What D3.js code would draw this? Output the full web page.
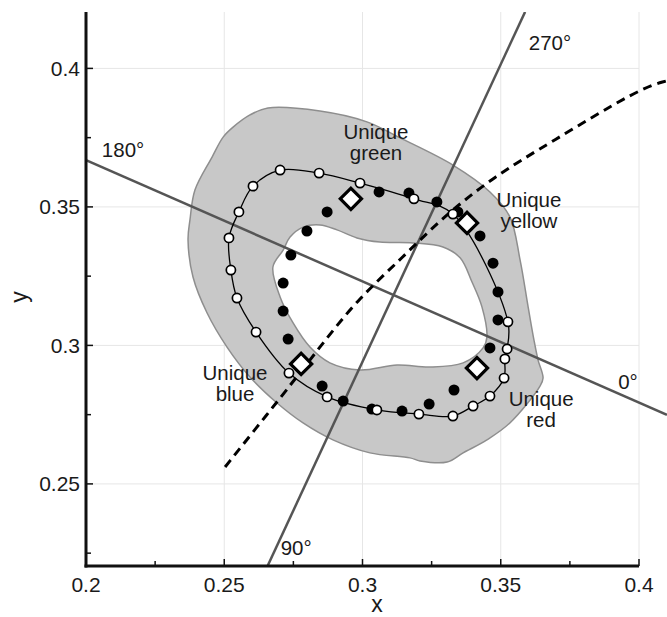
<!DOCTYPE html>
<html>
<head>
<meta charset="utf-8">
<script src="https://cdn.jsdelivr.net/npm/d3@7"></script>
<style>
body { margin: 0; background: #fff; }
text { font-family: "Liberation Sans", Arial, Helvetica, sans-serif; fill: #1a1a1a; }
</style>
</head>
<body>
<svg width="667" height="617"></svg>
<script>
// chart values
var xTicks = [0.2, 0.25, 0.3, 0.35, 0.4],
    yTicks = [0.25, 0.3, 0.35, 0.4],
    xMinor = [0.225, 0.275, 0.325, 0.375],
    yMinor = [0.225, 0.275, 0.325, 0.375];

// hue loop (open circles), in order round the ring
var loopX = [0.2517, 0.2553, 0.2604, 0.2702, 0.2843, 0.2991, 0.3186, 0.3327, 0.3526, 0.3523, 0.3515,
             0.3512, 0.3461, 0.3400, 0.3327, 0.3204, 0.3052, 0.2872, 0.2734, 0.2615, 0.2546, 0.2524];
var loopY = [0.3388, 0.3482, 0.3575, 0.3633, 0.3622, 0.3586, 0.3529, 0.3474, 0.3085, 0.2987, 0.2951,
             0.2882, 0.2817, 0.2781, 0.2745, 0.2752, 0.2767, 0.2814, 0.2900, 0.3048, 0.3171, 0.3272];

// filled circles
var dotX = [0.2872, 0.3060, 0.3168, 0.3269, 0.3345, 0.3425, 0.3472, 0.3490, 0.3490, 0.3461, 0.3331,
            0.3241, 0.3143, 0.3034, 0.2930, 0.2854, 0.2731, 0.2713, 0.2713, 0.2741, 0.2799];
var dotY = [0.3482, 0.3554, 0.3550, 0.3518, 0.3482, 0.3395, 0.3297, 0.3193, 0.3092, 0.2991, 0.2839,
            0.2788, 0.2763, 0.2770, 0.2799, 0.2853, 0.3023, 0.3124, 0.3225, 0.3326, 0.3413];

// unique hues (diamonds)
var uniqueNames = ["Unique green", "Unique yellow", "Unique blue", "Unique red"];
var uniqueX = [0.2958, 0.3378, 0.2778, 0.3414];
var uniqueY = [0.3529, 0.3442, 0.2933, 0.2918];

// shaded band: outer and inner edges
var outerX = [0.2658, 0.2846, 0.3016, 0.3136, 0.3327, 0.3461, 0.3533, 0.3570, 0.3599, 0.3620, 0.3635,
              0.3653, 0.3642, 0.3533, 0.3450, 0.3364, 0.3306, 0.3208, 0.3172, 0.3027, 0.2893, 0.2785,
              0.2691, 0.2593, 0.2510, 0.2438, 0.2387, 0.2369, 0.2376, 0.2394, 0.2456, 0.2496, 0.2532, 0.2593];
var outerY = [0.3857, 0.3846, 0.3807, 0.3749, 0.3651, 0.3554, 0.3464, 0.3308, 0.3139, 0.3020, 0.2947,
              0.2882, 0.2853, 0.2720, 0.2659, 0.2612, 0.2579, 0.2583, 0.2594, 0.2612, 0.2659, 0.2720,
              0.2792, 0.2886, 0.2994, 0.3117, 0.3247, 0.3381, 0.3453, 0.3561, 0.3680, 0.3752, 0.3788, 0.3832];
var innerX = [0.2676, 0.2713, 0.2738, 0.2785, 0.2846, 0.2908, 0.2980, 0.3063, 0.3183, 0.3291, 0.3353,
              0.3396, 0.3432, 0.3450, 0.3436, 0.3364, 0.3244, 0.3125, 0.2991, 0.2882, 0.2810, 0.2749, 0.2702];
var innerY = [0.3283, 0.3344, 0.3391, 0.3427, 0.3435, 0.3417, 0.3388, 0.3373, 0.3370, 0.3355, 0.3316,
              0.3229, 0.3139, 0.3030, 0.2991, 0.2937, 0.2922, 0.2929, 0.2911, 0.2937, 0.2994, 0.3081, 0.3175];

// opponent axes
var axis0X = [0.2, 0.4101],   axis0Y = [0.3669, 0.2749];
var axis90X = [0.2655, 0.3588], axis90Y = [0.22, 0.4204];

// dashed curve
var dashX = [0.2503, 0.2618, 0.2720, 0.2846, 0.2980, 0.3147, 0.3280, 0.3472, 0.3678, 0.4004, 0.4101];
var dashY = [0.2561, 0.2705, 0.2832, 0.2994, 0.3164, 0.3319, 0.3453, 0.3608, 0.3731, 0.3929, 0.3955];

var svg = d3.select("svg");

var x = d3.scaleLinear().domain([0.2, 0.4]).range([86, 639]),
    y = d3.scaleLinear().domain([0.22, 0.42]).range([567, 13]);

function pts(xs, ys) { return xs.map(function(d, i) { return [x(d), y(ys[i])]; }); }

svg.append("clipPath").attr("id", "clip")
  .append("rect").attr("x", 86).attr("y", 12).attr("width", 581).attr("height", 555);

// grid
svg.append("g").selectAll("line").data(xTicks.slice(1)).enter().append("line")
  .attr("x1", function(d) { return x(d); }).attr("x2", function(d) { return x(d); })
  .attr("y1", 12).attr("y2", 567)
  .attr("stroke", "#e6e6e6").attr("stroke-width", 1);
svg.append("g").selectAll("line").data(yTicks).enter().append("line")
  .attr("y1", function(d) { return y(d); }).attr("y2", function(d) { return y(d); })
  .attr("x1", 86).attr("x2", 639)
  .attr("stroke", "#e6e6e6").attr("stroke-width", 1);

var plot = svg.append("g").attr("clip-path", "url(#clip)");

// shaded band, hole cut with evenodd
var ringLine = d3.line().curve(d3.curveCatmullRomClosed.alpha(0.5));
plot.append("path")
  .attr("d", ringLine(pts(outerX, outerY)) + ringLine(pts(innerX, innerY)))
  .attr("fill", "#c8c8c8")
  .attr("fill-rule", "evenodd")
  .attr("stroke", "#8e8e8e")
  .attr("stroke-width", 1.5);

// opponent axes
[[axis0X, axis0Y], [axis90X, axis90Y]].forEach(function(a) {
  plot.append("path")
    .attr("d", d3.line()(pts(a[0], a[1])))
    .attr("stroke", "#555").attr("stroke-width", 2.5).attr("fill", "none");
});

// dashed curve
plot.append("path")
  .attr("d", d3.line().curve(d3.curveBasis)(pts(dashX, dashY)))
  .attr("stroke", "#000").attr("stroke-width", 3).attr("fill", "none")
  .attr("stroke-dasharray", "9,6");

// loop line
plot.append("path")
  .attr("d", ringLine(pts(loopX, loopY)))
  .attr("stroke", "#000").attr("stroke-width", 1.3).attr("fill", "none");

plot.append("g").selectAll("circle").data(pts(dotX, dotY)).enter().append("circle")
  .attr("cx", function(d) { return d[0]; }).attr("cy", function(d) { return d[1]; })
  .attr("r", 5.5).attr("fill", "#000");

plot.append("g").selectAll("circle").data(pts(loopX, loopY)).enter().append("circle")
  .attr("cx", function(d) { return d[0]; }).attr("cy", function(d) { return d[1]; })
  .attr("r", 4.6).attr("fill", "#fff").attr("stroke", "#000").attr("stroke-width", 1.7);

plot.append("g").selectAll("path").data(pts(uniqueX, uniqueY)).enter().append("path")
  .attr("transform", function(d) { return "translate(" + d[0] + "," + d[1] + ") rotate(45)"; })
  .attr("d", "M-7.5,-7.5H7.5V7.5H-7.5Z")
  .attr("fill", "#fff").attr("stroke", "#000").attr("stroke-width", 3.2);

// axes: spines with inward ticks
var ax = svg.append("g").attr("stroke", "#111");
ax.append("line").attr("x1", 86).attr("x2", 86).attr("y1", 12).attr("y2", 567.5).attr("stroke-width", 3);
ax.append("line").attr("x1", 84.5).attr("x2", 639).attr("y1", 566).attr("y2", 566).attr("stroke-width", 3);
xTicks.concat(xMinor).forEach(function(d, i) {
  var len = i < xTicks.length ? 7 : 5;
  ax.append("line").attr("x1", x(d)).attr("x2", x(d)).attr("y1", 566).attr("y2", 566 - len).attr("stroke-width", 1.5);
});
yTicks.concat(yMinor).forEach(function(d, i) {
  var len = i < yTicks.length ? 7 : 5;
  ax.append("line").attr("y1", y(d)).attr("y2", y(d)).attr("x1", 86).attr("x2", 86 + len).attr("stroke-width", 1.5);
});

svg.append("g").selectAll("text").data(xTicks).enter().append("text")
  .attr("x", function(d) { return x(d); }).attr("y", 592)
  .attr("text-anchor", "middle").attr("font-size", 21)
  .text(function(d) { return d; });
svg.append("g").selectAll("text").data(yTicks).enter().append("text")
  .attr("x", 80).attr("y", function(d) { return y(d); }).attr("dy", "0.36em")
  .attr("text-anchor", "end").attr("font-size", 21)
  .text(function(d) { return d; });

svg.append("text").attr("x", 377).attr("y", 612).attr("text-anchor", "middle")
  .attr("font-size", 23).text("x");
svg.append("text").attr("transform", "translate(27,297) rotate(-90)").attr("text-anchor", "middle")
  .attr("font-size", 23).text("y");

// labels (baseline of first line)
var labelPos = [[0.3049, 0.3745], [0.3602, 0.3500], [0.2539, 0.2875], [0.3646, 0.2781]];
uniqueNames.forEach(function(n, i) {
  var w = n.split(" ");
  var t = svg.append("text").attr("text-anchor", "middle").attr("font-size", 20.5)
    .attr("x", x(labelPos[i][0])).attr("y", y(labelPos[i][1]));
  t.append("tspan").attr("x", x(labelPos[i][0])).text(w[0]);
  t.append("tspan").attr("x", x(labelPos[i][0])).attr("dy", 21).text(w[1]);
});
var angles = [["180°", 0.2134, 0.3680], ["270°", 0.3678, 0.4066], ["0°", 0.3960, 0.2843], ["90°", 0.2760, 0.2243]];
angles.forEach(function(a) {
  svg.append("text").attr("x", x(a[1])).attr("y", y(a[2]))
    .attr("text-anchor", "middle").attr("font-size", 20.5).text(a[0]);
});
</script>
</body>
</html>
